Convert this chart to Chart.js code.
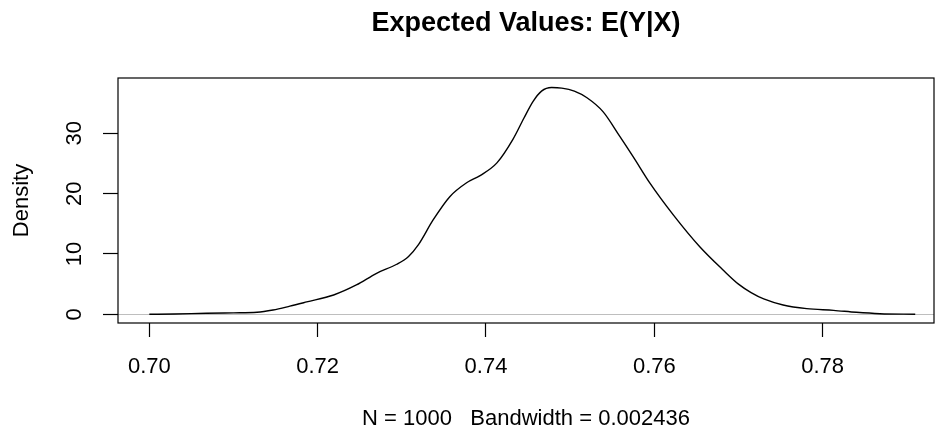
<!DOCTYPE html>
<html>
<head>
<meta charset="utf-8">
<script src="https://cdn.jsdelivr.net/npm/chart.js@4/dist/chart.umd.min.js"></script>
<style>
  html, body { margin: 0; padding: 0; background: #fff; }
  #wrap { width: 935px; height: 433px; }
</style>
</head>
<body>
<div id="wrap"><canvas id="c" width="935" height="433"></canvas></div>
<script>
// ---- data (kernel density estimate) ----
const densX = [0.7000, 0.7030, 0.7068, 0.7100, 0.7128, 0.7147, 0.7167, 0.7187, 0.7219, 0.7246,
               0.7270, 0.7294, 0.7308, 0.7320, 0.7337, 0.7357, 0.7377, 0.7393, 0.7413, 0.7432,
               0.7445, 0.7456, 0.7466, 0.7478, 0.7490, 0.7505, 0.7520, 0.7539, 0.7559, 0.7575,
               0.7595, 0.7623, 0.7654, 0.7682, 0.7700, 0.7715, 0.7730, 0.7753, 0.7781, 0.7813,
               0.7840, 0.7868, 0.7910];
const densY = [0.00, 0.06, 0.17, 0.24, 0.33, 0.71, 1.35, 2.05, 3.2, 4.86,
               6.8, 8.3, 9.6, 11.6, 15.6, 19.5, 21.8, 23.0, 25.1, 29.0,
               32.5, 35.3, 37.0, 37.6, 37.5, 37.0, 35.9, 33.6, 29.5, 26.1,
               21.7, 16.4, 11.2, 7.3, 5.0, 3.6, 2.55, 1.55, 0.95, 0.66,
               0.33, 0.10, 0.00];
const xTicks = [0.70, 0.72, 0.74, 0.76, 0.78];
const yTicks = [0, 10, 20, 30];
const titleText = "Expected Values: E(Y|X)";
const xLabel = "N = 1000   Bandwidth = 0.002436";
const yLabel = "Density";

const FONT = "'Liberation Sans', Arial, Helvetica, sans-serif";
Chart.defaults.color = '#000';
Chart.defaults.font.family = FONT;

const points = densX.map((x, i) => ({ x: x, y: densY[i] }));

const boxPlugin = {
  id: 'plotBox',
  afterDraw(chart) {
    const a = chart.chartArea, ctx = chart.ctx;
    ctx.save();
    ctx.strokeStyle = '#000';
    ctx.lineWidth = 1.2;
    ctx.strokeRect(a.left, a.top, a.right - a.left, a.bottom - a.top);
    ctx.restore();
  }
};

new Chart(document.getElementById('c'), {
  type: 'line',
  data: {
    datasets: [{
      data: points,
      borderColor: '#000',
      borderWidth: 1.4,
      pointRadius: 0,
      fill: false,
      cubicInterpolationMode: 'monotone'
    }]
  },
  options: {
    responsive: false,
    animation: false,
    events: [],
    layout: { padding: { left: 0, right: 1, top: 0, bottom: 0 } },
    plugins: {
      legend: { display: false },
      tooltip: { enabled: false },
      title: {
        display: true,
        text: titleText,
        fullSize: false,
        font: { family: FONT, size: 27, weight: 'bold' },
        color: '#000',
        padding: { top: 7.8, bottom: 37.8 }
      }
    },
    scales: {
      x: {
        type: 'linear',
        min: 0.69628,
        max: 0.79323,
        afterBuildTicks(scale) { scale.ticks = xTicks.map(v => ({ value: v })); },
        afterFit(scale) { scale.height = 110; },
        border: { display: false },
        grid: {
          display: true,
          drawOnChartArea: false,
          drawTicks: true,
          tickLength: 14,
          tickColor: '#000',
          tickWidth: 1.2
        },
        ticks: {
          autoSkip: false,
          maxRotation: 0,
          minRotation: 0,
          padding: 17,
          font: { family: FONT, size: 22 },
          color: '#000',
          callback: v => Number(v).toFixed(2)
        },
        title: {
          display: true,
          text: xLabel,
          font: { family: FONT, size: 22 },
          color: '#000',
          padding: { top: 0, bottom: 1 }
        }
      },
      y: {
        type: 'linear',
        min: -1.44,
        max: 39.17,
        z: 1,
        afterBuildTicks(scale) { scale.ticks = yTicks.map(v => ({ value: v })); },
        afterFit(scale) { scale.width = 118; },
        border: { display: false },
        grid: {
          display: true,
          drawOnChartArea: true,
          drawTicks: true,
          tickLength: 15,
          tickColor: '#000',
          tickWidth: 1.2,
          lineWidth: 1,
          color: ctx => (ctx.tick && ctx.tick.value === 0) ? '#bebebe' : 'rgba(0,0,0,0)'
        },
        ticks: {
          autoSkip: false,
          minRotation: 90,
          maxRotation: 90,
          crossAlign: 'center',
          padding: 16,
          font: { family: FONT, size: 22 },
          color: '#000',
          callback: v => String(v)
        },
        title: {
          display: true,
          text: yLabel,
          font: { family: FONT, size: 22 },
          color: '#000',
          padding: { top: 9, bottom: 0 }
        }
      }
    }
  },
  plugins: [boxPlugin]
});
</script>
</body>
</html>
